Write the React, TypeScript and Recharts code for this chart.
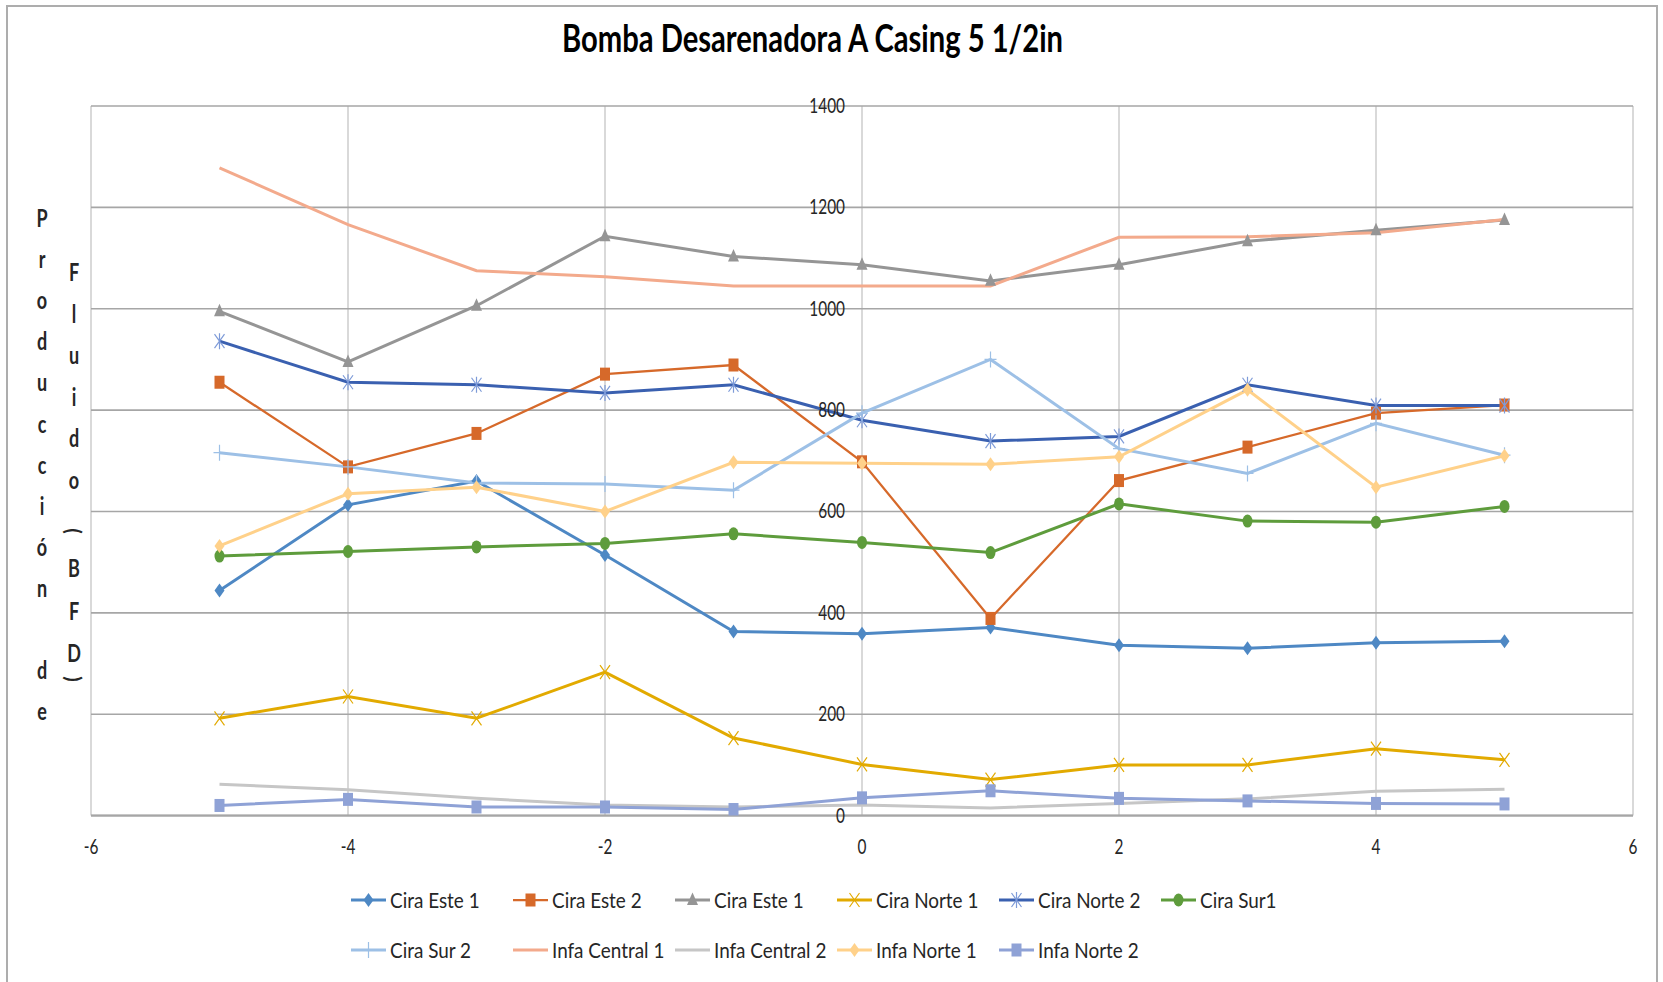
import React from 'react';
import { LineChart, Line, XAxis, YAxis, CartesianGrid, ReferenceDot, Legend } from 'recharts';

// ---------- DATA ----------
const xValues = [-5, -4, -3, -2, -1, 0, 1, 2, 3, 4, 5];
const ciraEste1 = [444, 613, 660, 514, 363, 359, 371, 336, 330, 341, 344];
const ciraEste2 = [855, 688, 754, 871, 889, 698, 389, 661, 727, 794, 810];
const ciraEste1b = [995, 895, 1006, 1143, 1103, 1087, 1055, 1087, 1133, 1155, 1175];
const ciraNorte1 = [192, 235, 192, 283, 153, 101, 71, 100, 100, 132, 110];
const ciraNorte2 = [936, 855, 850, 834, 850, 780, 739, 748, 850, 809, 809];
const ciraSur1 = [512, 521, 530, 537, 556, 539, 519, 615, 581, 579, 610];
const ciraSur2 = [716, 688, 656, 654, 642, 794, 900, 724, 675, 774, 711];
const infaCentral1 = [1278, 1166, 1075, 1063, 1045, 1045, 1045, 1141, 1142, 1150, 1176];
const infaCentral2 = [62, 51, 34, 21, 17, 21, 15, 24, 33, 48, 52];
const infaNorte1 = [532, 635, 648, 600, 697, 695, 693, 708, 840, 648, 710];
const infaNorte2 = [20, 32, 17, 17, 12, 35, 49, 34, 29, 24, 23];

const xTicks = [-6, -4, -2, 0, 2, 4, 6];
const yTicks = [0, 200, 400, 600, 800, 1000, 1200, 1400];

const titleText = 'Bomba Desarenadora A Casing 5 1/2in';
const yTitleCol1 = 'Producción de';
const yTitleCol2 = 'Fluido (BFD)';

// ---------- SERIES CONFIG (styles) ----------
type MarkerType = 'diamond' | 'square' | 'triangle' | 'x' | 'asterisk' | 'circle' | 'plus' | 'none';
const series: { key: string; name: string; values: number[]; color: string; width: number; marker: MarkerType }[] = [
  { key: 'ce1', name: 'Cira Este 1', values: ciraEste1, color: '#4E88C4', width: 3, marker: 'diamond' },
  { key: 'ce2', name: 'Cira Este 2', values: ciraEste2, color: '#D6692A', width: 2.25, marker: 'square' },
  { key: 'ce1b', name: 'Cira Este 1', values: ciraEste1b, color: '#959595', width: 3, marker: 'triangle' },
  { key: 'cn1', name: 'Cira Norte 1', values: ciraNorte1, color: '#E2AA00', width: 3, marker: 'x' },
  { key: 'cn2', name: 'Cira Norte 2', values: ciraNorte2, color: '#3A60B0', width: 3, marker: 'asterisk' },
  { key: 'cs1', name: 'Cira Sur1', values: ciraSur1, color: '#5E9C3C', width: 3, marker: 'circle' },
  { key: 'cs2', name: 'Cira Sur 2', values: ciraSur2, color: '#9DC0E6', width: 3, marker: 'plus' },
  { key: 'ic1', name: 'Infa Central 1', values: infaCentral1, color: '#F3AA8C', width: 3, marker: 'none' },
  { key: 'ic2', name: 'Infa Central 2', values: infaCentral2, color: '#C6C6C6', width: 3, marker: 'none' },
  { key: 'in1', name: 'Infa Norte 1', values: infaNorte1, color: '#FFD18A', width: 3, marker: 'diamond' },
  { key: 'in2', name: 'Infa Norte 2', values: infaNorte2, color: '#8FA2D6', width: 3, marker: 'square' },
];

const data = xValues.map((x, i) => {
  const row: Record<string, number> = { x };
  series.forEach((s) => {
    row[s.key] = s.values[i];
  });
  return row;
});

const FONT = 'Lato, "Open Sans", sans-serif';
const TEXT_COLOR = '#262626';

function Marker({ type, cx, cy, color }: { type: MarkerType; cx: number; cy: number; color: string }) {
  if (cx == null || cy == null) return null;
  switch (type) {
    case 'diamond':
      return <polygon points={`${cx},${cy - 7} ${cx + 5},${cy} ${cx},${cy + 7} ${cx - 5},${cy}`} fill={color} />;
    case 'square':
      return <rect x={cx - 5} y={cy - 6.5} width={10} height={13} fill={color} />;
    case 'triangle':
      return <polygon points={`${cx},${cy - 7.5} ${cx + 5.5},${cy + 5} ${cx - 5.5},${cy + 5}`} fill={color} />;
    case 'circle':
      return <ellipse cx={cx} cy={cy} rx={5} ry={6.5} fill={color} />;
    case 'x':
      return (
        <path
          d={`M${cx - 5},${cy - 7}L${cx + 5},${cy + 7}M${cx + 5},${cy - 7}L${cx - 5},${cy + 7}`}
          stroke={color}
          strokeWidth={1.2}
          fill="none"
        />
      );
    case 'asterisk':
      return (
        <path
          d={`M${cx - 5},${cy - 7}L${cx + 5},${cy + 7}M${cx + 5},${cy - 7}L${cx - 5},${cy + 7}M${cx},${cy - 8}L${cx},${cy + 8}`}
          stroke={color === '#3A60B0' ? '#7E9BD8' : color}
          strokeWidth={1.2}
          fill="none"
        />
      );
    case 'plus':
      return (
        <path
          d={`M${cx - 6},${cy}L${cx + 6},${cy}M${cx},${cy - 8}L${cx},${cy + 8}`}
          stroke={color}
          strokeWidth={1.2}
          fill="none"
        />
      );
    default:
      return null;
  }
}

function NarrowText({
  x,
  y,
  sx,
  size,
  anchor,
  bold,
  children,
}: {
  x: number;
  y: number;
  sx: number;
  size: number;
  anchor: 'start' | 'middle' | 'end';
  bold?: boolean;
  children: React.ReactNode;
}) {
  return (
    <text
      transform={`translate(${x},${y}) scale(${sx},1)`}
      textAnchor={anchor}
      fontFamily={FONT}
      fontSize={size}
      fontWeight={bold ? 'bold' : 'normal'}
      fill={TEXT_COLOR}
    >
      {children}
    </text>
  );
}

const renderLegend = (props: any) => {
  const payload: any[] = props.payload || [];
  return (
    <svg width={1663} height={110} style={{ display: 'block' }}>
      {series.map((s, i) => {
        const entry = payload.find((p) => p.dataKey === s.key);
        const color = entry?.color ?? s.color;
        const label = entry?.value ?? s.name;
        const col = i % 6;
        const row = Math.floor(i / 6);
        const x0 = 351 + col * 162;
        const y = 30 + row * 50;
        return (
          <g key={s.key}>
            <line x1={x0} x2={x0 + 35} y1={y} y2={y} stroke={color} strokeWidth={s.width} />
            <Marker type={s.marker} cx={x0 + 17.5} cy={y} color={color} />
            <NarrowText x={x0 + 39} y={y + 8} sx={0.86} size={22} anchor="start">
              {label}
            </NarrowText>
          </g>
        );
      })}
    </svg>
  );
};

const yTickLabel = (v: number) => (p: any) => {
  const vb = p.viewBox || {};
  const cx = (vb.x ?? 0) + (vb.width ?? 0) / 2;
  const cy = (vb.y ?? 0) + (vb.height ?? 0) / 2;
  return (
    <NarrowText x={cx - 17} y={cy + 7} sx={0.7} size={22} anchor="end">
      {v}
    </NarrowText>
  );
};

const xTick = (p: any) => (
  <NarrowText x={p.x} y={p.y + 38} sx={0.7} size={22} anchor="middle">
    {p.payload.value}
  </NarrowText>
);

// vertical positions of the stacked letters of the second title column
const col2Y = [281, 322.5, 364, 405.5, 447, 488.5, 0, 531, 577, 620, 662, 679];

export default function App() {
  const col1 = yTitleCol1.split('');
  const col2 = yTitleCol2.split('');
  return (
    <div
      style={{
        position: 'absolute',
        left: 0,
        top: 0,
        width: 1663,
        height: 982,
        background: '#ffffff',
        overflow: 'hidden',
      }}
    >
      <LineChart
        width={1663}
        height={982}
        data={data}
        margin={{ top: 106, right: 30, bottom: 126.4, left: 91 }}
      >
        <CartesianGrid horizontal={false} vertical stroke="#C0C0C0" strokeWidth={1.2} />
        <CartesianGrid horizontal vertical={false} stroke="#A6A6A6" strokeWidth={1.6} />
        <XAxis
          type="number"
          dataKey="x"
          domain={[-6, 6]}
          ticks={xTicks}
          height={40}
          tickSize={0}
          tickMargin={0}
          tickLine={false}
          axisLine={{ stroke: '#A6A6A6', strokeWidth: 2 }}
          tick={xTick}
          interval={0}
          allowDataOverflow
        />
        <YAxis type="number" domain={[0, 1400]} ticks={yTicks} hide width={0} allowDataOverflow />
        {yTicks.map((v) => (
          <ReferenceDot key={`yl-${v}`} x={0} y={v} r={1} fill="none" stroke="none" label={yTickLabel(v)} />
        ))}
        {series.map((s) => (
          <Line
            key={s.key}
            type="linear"
            dataKey={s.key}
            name={s.name}
            stroke={s.color}
            strokeWidth={s.width}
            isAnimationActive={false}
            dot={
              s.marker === 'none'
                ? false
                : (p: any) => (
                    <Marker key={`${s.key}-${p.index}`} type={s.marker} cx={p.cx} cy={p.cy} color={s.color} />
                  )
            }
            activeDot={false}
          />
        ))}
        <Legend
          layout="horizontal"
          verticalAlign="middle"
          align="center"
          content={renderLegend}
          wrapperStyle={{ top: 870, left: 0, width: 1663, height: 110 }}
        />
      </LineChart>

      <svg
        width={1663}
        height={982}
        style={{ position: 'absolute', left: 0, top: 0, pointerEvents: 'none' }}
      >
        <text
          x={812.5}
          y={52}
          textAnchor="middle"
          fontFamily={FONT}
          fontWeight="bold"
          fontSize={38}
          fill="#000"
          textLength={501}
          lengthAdjust="spacingAndGlyphs"
        >
          {titleText}
        </text>
        {col1.map((ch, i) =>
          ch === ' ' ? null : (
            <NarrowText key={`c1-${i}`} x={42} y={227 + i * 41.1} sx={0.75} size={24} anchor="middle" bold>
              {ch}
            </NarrowText>
          )
        )}
        {col2.map((ch, i) => {
          if (ch === ' ') return null;
          const y = col2Y[i];
          if (ch === '(' || ch === ')') {
            return (
              <text
                key={`c2-${i}`}
                transform={`translate(74,${y}) rotate(90)`}
                textAnchor="middle"
                dominantBaseline="central"
                fontFamily={FONT}
                fontWeight="bold"
                fontSize={20}
                fill={TEXT_COLOR}
              >
                {ch}
              </text>
            );
          }
          return (
            <NarrowText key={`c2-${i}`} x={74} y={y} sx={0.75} size={24} anchor="middle" bold>
              {ch}
            </NarrowText>
          );
        })}
      </svg>

      <div
        style={{
          position: 'absolute',
          left: 6,
          top: 5,
          width: 1652,
          height: 1000,
          border: '2px solid #ADADAD',
          boxSizing: 'border-box',
          pointerEvents: 'none',
        }}
      />
    </div>
  );
}
